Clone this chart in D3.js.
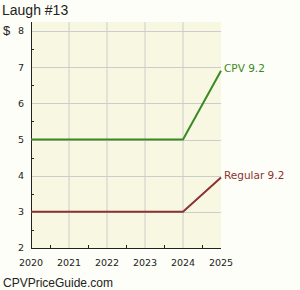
<!DOCTYPE html>
<html>
<head>
<meta charset="utf-8">
<script src="https://cdn.jsdelivr.net/npm/d3@7"></script>
<style>
  body { margin: 0; background: #fefef8; }
  svg { display: block; }
</style>
</head>
<body>
<svg id="chart" width="300" height="290"></svg>
<script>
// chart data
const years = [2020, 2021, 2022, 2023, 2024, 2025];
const cpvValues = [5, 5, 5, 5, 5, 6.9];
const regularValues = [3, 3, 3, 3, 3, 3.95];
const yTicks = [2, 3, 4, 5, 6, 7, 8];
const seriesLabels = ['CPV 9.2', 'Regular 9.2'];

const margin = { top: 22, right: 79, bottom: 42, left: 31 };
const width = 300 - margin.left - margin.right;
const height = 290 - margin.top - margin.bottom;

const svg = d3.select('#chart');

// title and footer
svg.append('text')
  .attr('x', 2).attr('y', 15)
  .style('font-family', 'Liberation Sans, Arial, sans-serif')
  .style('font-size', '14px')
  .attr('fill', '#222')
  .text('Laugh #13');

svg.append('text')
  .attr('x', 3).attr('y', 287)
  .style('font-family', 'Liberation Sans, Arial, sans-serif')
  .style('font-size', '12px')
  .attr('fill', '#222')
  .text('CPVPriceGuide.com');

svg.append('text')
  .attr('x', 3).attr('y', 35)
  .style('font-family', 'Liberation Sans, Arial, sans-serif')
  .style('font-size', '13px')
  .attr('fill', '#222')
  .text('$');

const g = svg.append('g')
  .attr('transform', 'translate(' + margin.left + ',' + margin.top + ')');

const x = d3.scaleLinear().domain([2020, 2025]).range([0, width]);
const y = d3.scaleLinear().domain([2, 8.25]).range([height, 0]);

// plot background
g.append('rect')
  .attr('width', width).attr('height', height)
  .attr('fill', '#f8f7e2');

// gridlines
g.selectAll('.vgrid').data(years.slice(1, -1)).enter().append('line')
  .attr('x1', d => x(d)).attr('x2', d => x(d))
  .attr('y1', 0).attr('y2', height)
  .attr('stroke', '#cccccc').attr('stroke-width', 1);

g.selectAll('.hgrid').data(yTicks.slice(1)).enter().append('line')
  .attr('x1', 0).attr('x2', width)
  .attr('y1', d => Math.round(y(d)) + 0.5).attr('y2', d => Math.round(y(d)) + 0.5)
  .attr('stroke', '#cccccc').attr('stroke-width', 1);

// minor ticks
const yMinor = d3.range(2.5, 8.5, 1);
g.selectAll('.ymin').data(yMinor).enter().append('line')
  .attr('x1', 0).attr('x2', 3)
  .attr('y1', d => Math.round(y(d)) + 0.5).attr('y2', d => Math.round(y(d)) + 0.5)
  .attr('stroke', '#222');

const xMinor = d3.range(2020.5, 2025, 1);
g.selectAll('.xmin').data(xMinor).enter().append('line')
  .attr('x1', d => Math.round(x(d)) + 0.5).attr('x2', d => Math.round(x(d)) + 0.5)
  .attr('y1', height).attr('y2', height - 3)
  .attr('stroke', '#222');

// axes lines
g.append('line')
  .attr('x1', 0.5).attr('x2', 0.5).attr('y1', 0).attr('y2', height)
  .attr('stroke', '#222');
g.append('line')
  .attr('x1', 0).attr('x2', width).attr('y1', height + 0.5).attr('y2', height + 0.5)
  .attr('stroke', '#222');

// tick labels
g.selectAll('.ylab').data(yTicks).enter().append('text')
  .attr('x', -7).attr('y', d => y(d))
  .attr('dy', '0.35em')
  .attr('text-anchor', 'end')
  .style('font-family', 'DejaVu Sans, sans-serif')
  .style('font-size', '9.5px')
  .attr('fill', '#222')
  .text(d => d);

g.selectAll('.xlab').data(years).enter().append('text')
  .attr('x', d => x(d)).attr('y', height + 18)
  .attr('text-anchor', 'middle')
  .style('font-family', 'DejaVu Sans, sans-serif')
  .style('font-size', '9.5px')
  .attr('fill', '#222')
  .text(d => d);

// series lines
const series = [
  { name: seriesLabels[0], values: cpvValues, color: '#3a8a22' },
  { name: seriesLabels[1], values: regularValues, color: '#8b3333' }
];

const line = d3.line()
  .x((d, i) => x(years[i]))
  .y(d => y(d));

series.forEach(s => {
  g.append('path')
    .datum(s.values)
    .attr('d', line)
    .attr('fill', 'none')
    .attr('stroke', s.color)
    .attr('stroke-width', 2);

  g.append('text')
    .attr('x', width + 3)
    .attr('y', y(s.values[s.values.length - 1]) - 2)
    .attr('dy', '0.35em')
    .style('font-family', 'DejaVu Sans, sans-serif')
    .style('font-size', '10.5px')
    .attr('fill', s.color)
    .text(s.name);
});
</script>
</body>
</html>
